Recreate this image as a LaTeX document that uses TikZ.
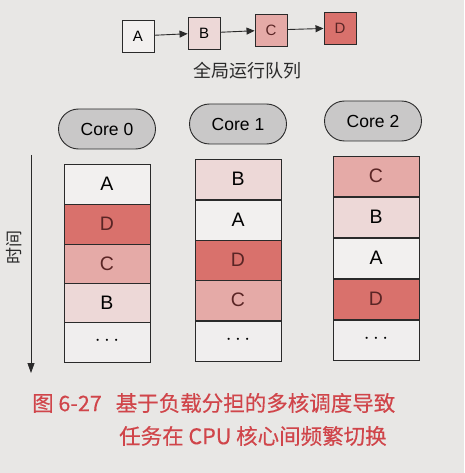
\documentclass[tikz,border=0pt]{standalone}
\usepackage{fontspec}
\setmainfont{Liberation Sans}
\newfontfamily\cjk{Noto Sans CJK SC}
\newfontfamily\cjkb[FakeBold=0.3]{Noto Sans CJK SC}
\usetikzlibrary{arrows.meta,shapes.misc}
\definecolor{bgc}{HTML}{E8E7E5}
\definecolor{tA}{HTML}{F2F0EF}
\definecolor{tB}{HTML}{EDD8D7}
\definecolor{tC}{HTML}{E5AAA7}
\definecolor{tD}{HTML}{D9716C}
\definecolor{tE}{HTML}{F0EEEE}
\definecolor{pill}{HTML}{C9C8C8}
\definecolor{cap}{HTML}{D0454A}
\definecolor{ink}{HTML}{2A2A2A}
\definecolor{dink}{HTML}{5A2525}
\tikzset{
  qbox/.style={draw=ink, line width=0.9pt, minimum width=32pt, minimum height=32pt, inner sep=0pt, font=\fontsize{15}{15}\selectfont},
  core/.style={draw=ink, line width=0.9pt, fill=pill, rounded rectangle, minimum width=97pt, minimum height=40pt, inner sep=0pt, font=\fontsize{17.5}{17.5}\selectfont},
  cell/.style={draw=ink, line width=0.9pt, minimum width=86pt, minimum height=40pt, inner sep=0pt, font=\fontsize{19.5}{19.5}\selectfont},
  qarrow/.style={draw=ink, line width=0.9pt, -{Triangle[length=8pt,width=7pt]}},
  captxt/.style={text=cap, font=\cjkb\fontsize{21.5}{21.5}\selectfont, anchor=west, inner sep=0pt}
}
\begin{document}
\begin{tikzpicture}[x=1pt,y=-1pt]
\fill[bgc] (0,0) rectangle (464,473);
\useasboundingbox (0,0) rectangle (464,473);
% global queue
\node[qbox, fill=tA] (qa) at (138,36) {A};
\node[qbox, fill=tB] (qb) at (204,33) {B};
\node[qbox, fill=tC, text=dink] (qc) at (271,30) {C};
\node[qbox, fill=tD, text=dink] (qd) at (340,28) {D};
\draw[qarrow] (qa) -- (qb);
\draw[qarrow] (qb) -- (qc);
\draw[qarrow] (qc) -- (qd);
\node[font=\cjk\fontsize{18}{18}\selectfont, text=ink] (ql) at (247,71) {全局运行队列};
% cores
\node[core] (c0) at (107,129) {Core 0};
\node[core] (c1) at (238,124) {Core 1};
\node[core] (c2) at (373,121) {Core 2};
% column 0
\node[cell, fill=tA] (a0) at (107,184) {A};
\node[cell, fill=tD, text=dink] (a1) at (107,224) {D};
\node[cell, fill=tC, text=dink] (a2) at (107,264) {C};
\node[cell, fill=tB] (a3) at (107,303) {B};
\node[cell, fill=tE] (a4) at (107,342) {\raisebox{2pt}{$\cdots$}};
% column 1
\node[cell, fill=tB] (b0) at (238,179) {B};
\node[cell, fill=tA] (b1) at (238,220) {A};
\node[cell, fill=tD, text=dink] (b2) at (238,260) {D};
\node[cell, fill=tC, text=dink] (b3) at (238,300) {C};
\node[cell, fill=tE] (b4) at (238,341) {\raisebox{2pt}{$\cdots$}};
% column 2
\node[cell, fill=tC, text=dink] (d0) at (376,176) {C};
\node[cell, fill=tB] (d1) at (376,217) {B};
\node[cell, fill=tA] (d2) at (376,258) {A};
\node[cell, fill=tD, text=dink] (d3) at (376,299) {D};
\node[cell, fill=tE] (d4) at (376,340) {\raisebox{2pt}{$\cdots$}};
% time axis
\coordinate (t0) at (31,155);
\coordinate (t1) at (31,373);
\draw[draw=ink, line width=0.8pt, -{Triangle[length=10pt,width=7pt]}] (t0) -- (t1);
\node[rotate=90, font=\cjk\fontsize{17}{17}\selectfont, text=ink] (tl) at (14,247) {时间};
% caption
\node[captxt] (cp1) at (32,403) {图 6-27\hspace{14pt}基于负载分担的多核调度导致};
\node[captxt] (cp2) at (119,436) {任务在 CPU 核心间频繁切换};
\end{tikzpicture}
\end{document}
